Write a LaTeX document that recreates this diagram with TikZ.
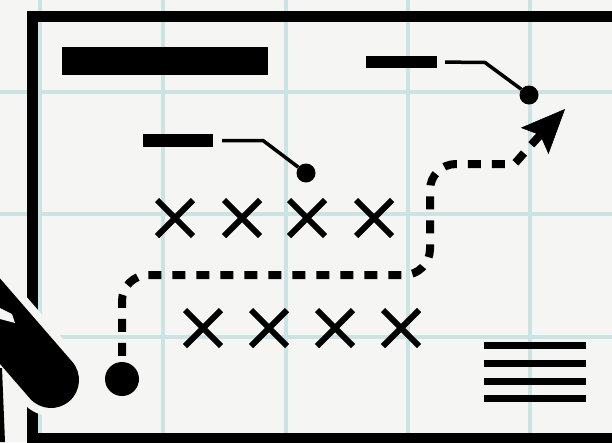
\documentclass[tikz,border=0pt]{standalone}
\usetikzlibrary{shapes.misc,arrows.meta}
\definecolor{paper}{RGB}{245,245,243}
\definecolor{gridline}{RGB}{202,228,228}

\begin{document}
\begin{tikzpicture}[x=1pt,y=-1pt,
  bar/.style={fill=black,inner sep=0pt},
  spot/.style={circle,fill=black,inner sep=0pt,minimum size=19pt},
  leader/.style={line width=3.5pt},
  xmark/.style={cross out,draw,line width=6pt,inner sep=0pt,minimum size=30pt},
  route/.style={line width=8pt,dash pattern=on 13pt off 11pt,rounded corners=26pt}]
  \useasboundingbox (0,0) rectangle (612,442);
  \clip (0,0) rectangle (612,442);
  % squared paper
  \fill[paper] (0,0) rectangle (612,442);
  \foreach \x in {40,163,286,408,530} \draw[gridline,line width=4pt] (\x,0) -- (\x,442);
  \foreach \y in {92,214,337} \draw[gridline,line width=4pt] (0,\y) -- (612,\y);
  % board frame
  \draw[line width=11pt] (32.5,16) rectangle (660,438.5);
  % marker in the corner
  \draw[paper,line width=72pt,line cap=round] (-60,252) -- (51,380);
  \draw[line width=56pt,line cap=round] (-60,252) -- (51,380);
  \fill[paper] (0,308) -- (12,314) -- (15,323) -- (0,319) -- cycle;
  \fill (0,368) -- (2,368) -- (5,442) -- (0,442) -- cycle;
  % heading and tags
  \node[bar,minimum width=206pt,minimum height=28pt] (title) at (165,61) {};
  \node[bar,minimum width=70pt,minimum height=13pt] (tagA) at (178,140.5) {};
  \node[bar,minimum width=71pt,minimum height=12pt] (tagB) at (401.5,62) {};
  \node[spot] (dotA) at (306,173) {};
  \node[spot] (dotB) at (529,95) {};
  \draw[leader,shorten <=9pt] (tagA.east) -- (263,140.5) -- (dotA);
  \draw[leader,shorten <=8pt] (tagB.east) -- (485,62.5) -- (dotB);
  % defence and offence
  \foreach \x [count=\i] in {175,242,307,374} \node[xmark] (d\i) at (\x,218) {};
  \foreach \x [count=\i] in {203,269,335,401} \node[xmark] (o\i) at (\x,328) {};
  % the play
  \node[circle,fill=black,inner sep=0pt,minimum size=34pt] (start) at (122,379) {};
  \coordinate (goal) at (565,109);
  \draw[route,shorten <=6pt,-{Stealth[length=44pt,width=38pt,inset=8pt,line width=0.5pt]}]
    (start) -- (122,275) -- (430,275) -- (430,164) -- (488,164)
    .. controls (515,164) and (527,149) .. (goal);
  % notes
  \foreach \y in {345.5,363.5,381,398.5} \draw[line width=7pt] (484,\y) -- (586,\y);
\end{tikzpicture}
\end{document}
